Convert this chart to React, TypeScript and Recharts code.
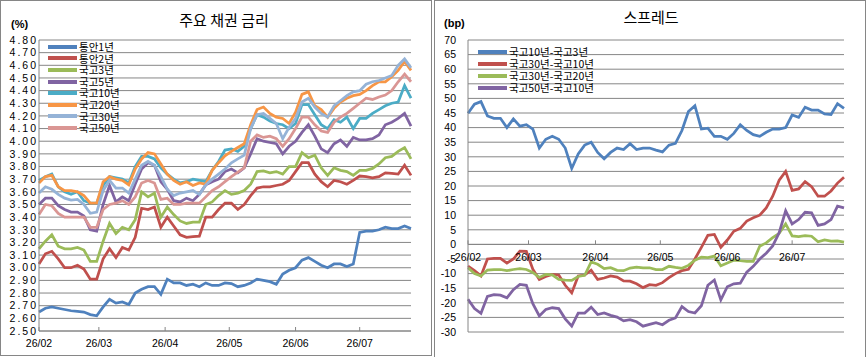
import React from "react";
import {
  LineChart,
  Line,
  XAxis,
  YAxis,
  CartesianGrid,
  Legend,
  ReferenceLine,
  ReferenceDot,
} from "recharts";

// days counted from 2026-02-01, one sample every 3 days
const days = [
  0, 3, 6, 9, 12, 15, 18, 21, 24, 27, 30, 33, 36, 39, 42, 45, 48, 51, 54, 57,
  60, 63, 66, 69, 72, 75, 78, 81, 84, 87, 90, 93, 96, 99, 102, 105, 108, 111,
  114, 117, 120, 123, 126, 129, 132, 135, 138, 141, 144, 147, 150, 153, 156,
  159, 162, 165, 168, 171, 174,
];

const monthTicks = [0, 28, 59, 89, 120, 150];
const monthLabels = ["26/02", "26/03", "26/04", "26/05", "26/06", "26/07"];

const rateTicks = [
  2.5, 2.6, 2.7, 2.8, 2.9, 3.0, 3.1, 3.2, 3.3, 3.4, 3.5, 3.6, 3.7, 3.8, 3.9,
  4.0, 4.1, 4.2, 4.3, 4.4, 4.5, 4.6, 4.7, 4.8,
];
const spreadTicks = [
  -30, -25, -20, -15, -10, -5, 0, 5, 10, 15, 20, 25, 30, 35, 40, 45, 50, 55, 60,
  65, 70,
];

// 주요 채권 금리 (%)
const tongan1 = [
  2.65, 2.68, 2.69, 2.68, 2.67, 2.66, 2.655, 2.65, 2.63, 2.62,
  2.69, 2.75, 2.72, 2.73, 2.71, 2.8, 2.83, 2.85, 2.85, 2.79,
  2.91, 2.88, 2.88, 2.86, 2.87, 2.85, 2.88, 2.86, 2.86, 2.88,
  2.875, 2.85, 2.86, 2.88, 2.91, 2.9, 2.89, 2.87, 2.95, 2.98,
  3.0, 3.06, 3.08, 3.05, 3.02, 3.0, 3.03, 3.03, 3.01, 3.03,
  3.28, 3.29, 3.29, 3.3, 3.32, 3.31, 3.31, 3.33, 3.31,
];
const tongan2 = [
  3.03, 3.11, 3.13, 3.07, 3.0, 3.0, 3.02, 2.99, 2.91, 2.91,
  3.07, 3.15, 3.08, 3.16, 3.14, 3.24, 3.47, 3.46, 3.48, 3.32,
  3.4, 3.33, 3.26, 3.24, 3.245, 3.25, 3.4, 3.4, 3.46, 3.51,
  3.51, 3.46, 3.5, 3.57, 3.63, 3.64, 3.64, 3.65, 3.66, 3.69,
  3.76, 3.83, 3.83, 3.74, 3.68, 3.64, 3.69, 3.68, 3.66, 3.69,
  3.725, 3.72, 3.71, 3.72, 3.75, 3.745, 3.74, 3.81, 3.73,
];
const gukgo3 = [
  3.15, 3.21, 3.26, 3.17, 3.15, 3.15, 3.16, 3.14, 3.05, 3.05,
  3.21, 3.35, 3.27, 3.32, 3.3, 3.38, 3.6, 3.56, 3.59, 3.4,
  3.48, 3.42, 3.37, 3.35, 3.36, 3.36, 3.5, 3.52, 3.57, 3.61,
  3.58, 3.59, 3.61, 3.66, 3.76, 3.765, 3.75, 3.76, 3.74, 3.8,
  3.8, 3.91, 3.87, 3.89, 3.79, 3.73, 3.79, 3.77, 3.76, 3.73,
  3.77, 3.77, 3.785, 3.82, 3.87, 3.88, 3.92, 3.95, 3.86,
];
const gukgo5 = [
  3.5, 3.55, 3.55, 3.49, 3.46, 3.44, 3.44, 3.41, 3.3, 3.29,
  3.5, 3.65, 3.52, 3.56, 3.53, 3.66, 3.78, 3.83, 3.81, 3.68,
  3.62, 3.53, 3.52, 3.55, 3.53, 3.58, 3.655, 3.68, 3.7, 3.76,
  3.78, 3.75, 3.79, 3.9, 4.02, 4.0, 3.99, 3.98, 3.9, 3.96,
  4.0, 4.07, 4.13, 4.04, 3.94, 3.91, 3.98, 4.01, 3.96, 4.03,
  4.01, 4.01, 4.02, 4.05, 4.13, 4.15, 4.18, 4.22, 4.12,
];
const gukgo10 = [
  3.69, 3.72, 3.74, 3.64, 3.6, 3.58, 3.6, 3.53, 3.51, 3.51,
  3.65, 3.72, 3.71, 3.7, 3.67, 3.8, 3.88, 3.88, 3.86, 3.79,
  3.74, 3.7, 3.67, 3.68, 3.7, 3.69, 3.68, 3.77, 3.84, 3.93,
  3.94, 3.92, 3.96, 4.1, 4.21, 4.19, 4.16, 4.14, 4.13, 4.1,
  4.14, 4.29, 4.29, 4.21, 4.13, 4.1, 4.17, 4.15, 4.19, 4.1,
  4.18, 4.18, 4.22, 4.25, 4.28, 4.3, 4.31, 4.44, 4.34,
];
const gukgo20 = [
  3.67, 3.72, 3.73, 3.64, 3.61, 3.61, 3.6, 3.57, 3.51, 3.51,
  3.68, 3.72, 3.7, 3.69, 3.655, 3.78, 3.86, 3.91, 3.9, 3.82,
  3.74, 3.69, 3.66, 3.68, 3.65, 3.67, 3.66, 3.77, 3.83, 3.885,
  3.92, 3.95, 3.98, 4.13, 4.25, 4.27, 4.22, 4.19, 4.18, 4.14,
  4.23, 4.37, 4.39, 4.28, 4.25, 4.19, 4.26, 4.31, 4.34, 4.36,
  4.37, 4.4, 4.44, 4.47, 4.47, 4.51, 4.56, 4.63, 4.56,
];
const gukgo30 = [
  3.59, 3.64, 3.62, 3.58, 3.55, 3.535, 3.54, 3.5, 3.43, 3.44,
  3.61, 3.69, 3.63, 3.63, 3.59, 3.7, 3.81, 3.84, 3.81, 3.72,
  3.62, 3.57, 3.59, 3.6, 3.61, 3.58, 3.655, 3.7, 3.74, 3.78,
  3.83, 3.86, 3.89, 4.1, 4.21, 4.22, 4.18, 4.14, 4.02, 4.11,
  4.18, 4.31, 4.34, 4.27, 4.22, 4.19, 4.28, 4.32, 4.36, 4.39,
  4.4, 4.45, 4.47, 4.48, 4.5, 4.52, 4.6, 4.65, 4.58,
];
const gukgo50 = [
  3.42, 3.5, 3.49, 3.43, 3.4, 3.4, 3.4, 3.4, 3.32, 3.32,
  3.46, 3.5, 3.51, 3.53, 3.5, 3.56, 3.67, 3.69, 3.67, 3.54,
  3.55, 3.5, 3.5, 3.51, 3.51, 3.51, 3.56, 3.61, 3.64, 3.68,
  3.72, 3.755, 3.79, 4.0, 4.05, 4.03, 4.04, 4.02, 3.96, 4.02,
  4.1, 4.19, 4.19, 4.13, 4.08, 4.07, 4.15, 4.19, 4.22, 4.26,
  4.3, 4.34, 4.33, 4.35, 4.365, 4.4, 4.47, 4.53, 4.47,
];

// 스프레드 (bp)
const s10y3y = [
  44.9, 48, 48.9, 44, 43.2, 43.2, 40, 43, 40.5, 41,
  39.5, 33, 36, 37, 36, 33, 26, 31, 34, 35,
  31.5, 29.3, 31.5, 33, 32.5, 34.5, 32.5, 33, 33, 32.3,
  31.7, 34, 34.6, 39, 45.5, 47.5, 39.5, 39.8, 37, 37,
  36, 38, 41, 39, 37.6, 37, 38.4, 39.5, 39.5, 40,
  44.3, 43.5, 47, 46, 46, 44.7, 44.5, 48.2, 46.6,
];
const s30y10y = [
  -7.4, -9, -10.8, -5, -4.8, -4.8, -6.4, -5, -2.3, -2.4,
  -8.5, -12, -11, -10.3, -10.5, -14, -16.6, -10.8, -10.5, -8.8,
  -12, -11.5, -10.8, -11.2, -12.5, -12.6, -13.5, -14.8, -13.8, -14,
  -13.1, -11.4, -10, -9, -8.5, -5, -1, 3.1, 3.4, -1,
  1.5, 4.5, 5.5, 8, 9.1, 10, 12.5, 16.5, 22, 25,
  18.5, 19, 21.5, 19.8, 16.5, 16.5, 18.3, 21, 23,
];
const s30y20y = [
  -8, -10, -10.8, -8.8, -8.6, -8.6, -9, -8.6, -8.3, -8.6,
  -9.6, -11.3, -10.3, -10.4, -12, -12.2, -12.3, -11, -10.6, -6,
  -6.8, -8.3, -8, -8.9, -9, -8.1, -7.8, -8, -8, -8.6,
  -8.6, -7.5, -7.9, -8.2, -7.2, -5.4, -4.4, -4.5, -4, -7.3,
  -6.4, -5.4, -5.6, -5.8, -5.8, -0.6, 0.5, 2.3, 3.8, 7,
  2.9, 2.7, 3, 2.8, 0.9, 1.5, 1.1, 1.2, 0.8,
];
const s50y10y = [
  -18.8, -22, -23.6, -17.8, -17.2, -17.4, -18.3, -15.5, -13.7, -14,
  -20.3, -24.5, -22.3, -21.7, -22, -25.5, -28, -23.5, -23.5, -21.5,
  -24, -23.5, -24.3, -24.9, -26.2, -25.8, -26.5, -28, -27.4, -26.8,
  -27.5, -26, -25.2, -21.3, -23, -23.5, -21, -14, -12.2, -19,
  -14.5, -13.5, -13.3, -9.5, -7.5, -5, -3, -0.5, 4, 11.5,
  7, 8.5, 11, 10.8, 6.5, 7, 8.5, 13.1, 12.5,
];

const rateNames = ["통안1년", "통안2년", "국고3년", "국고5년", "국고10년", "국고20년", "국고30년", "국고50년"];
const rateValues = [tongan1, tongan2, gukgo3, gukgo5, gukgo10, gukgo20, gukgo30, gukgo50];
const rateColors = ["#4F81BD", "#C0504D", "#9BBB59", "#8064A2", "#4BACC6", "#F79646", "#95B3D7", "#DA9694"];

const spreadNames = ["국고10년-국고3년", "국고30년-국고10년", "국고30년-국고20년", "국고50년-국고10년"];
const spreadValues = [s10y3y, s30y10y, s30y20y, s50y10y];
const spreadColors = ["#4F81BD", "#C0504D", "#9BBB59", "#8064A2"];

const rateData = days.map((d, i) => {
  const row: Record<string, number> = { day: d };
  rateNames.forEach((n, k) => (row[n] = rateValues[k][i]));
  return row;
});
const spreadData = days.map((d, i) => {
  const row: Record<string, number> = { day: d };
  spreadNames.forEach((n, k) => (row[n] = spreadValues[k][i]));
  return row;
});

const FONT_KR = '"Noto Sans CJK KR", "Noto Sans", sans-serif';
const FONT_NUM = '"Liberation Sans", Arial, sans-serif';
const GRID = "#868686";

const monthFmt = (v: number) => monthLabels[monthTicks.indexOf(v)] ?? "";

// legend keeps the series order (recharts sorts by name otherwise)
function LegendList({ payload, rowH, order }: any) {
  const items = [...(payload || [])].sort(
    (a: any, b: any) => order.indexOf(a.value) - order.indexOf(b.value)
  );
  return (
    <div style={{ fontFamily: FONT_KR, fontSize: 10.5, color: "#000" }}>
      {items.map((p: any) => (
        <div key={p.value} style={{ display: "flex", alignItems: "center", height: rowH, whiteSpace: "nowrap" }}>
          <div style={{ width: 29, height: 4, background: p.color, marginRight: 2 }} />
          <span style={{ lineHeight: `${rowH}px` }}>{p.value}</span>
        </div>
      ))}
    </div>
  );
}

export default function App() {
  return (
    <div style={{ position: "absolute", left: 0, top: 0, width: 867, height: 357, background: "#fff", overflow: "hidden" }}>
      {/* left panel */}
      <div style={{ position: "absolute", left: 0, top: 0, width: 432, height: 356, border: `1px solid ${GRID}`, boxSizing: "border-box" }} />
      <div style={{ position: "absolute", left: 124, top: 10, width: 200, textAlign: "center", fontFamily: FONT_KR, fontSize: 15, lineHeight: "20px" }}>
        주요 채권 금리
      </div>
      <div style={{ position: "absolute", left: 11, top: 18, fontFamily: FONT_NUM, fontSize: 11, fontWeight: "bold" }}>(%)</div>
      <div style={{ position: "absolute", left: 0, top: 0 }}>
        <LineChart width={432} height={356} data={rateData} margin={{ top: 40, right: 21, bottom: 0, left: 0 }}>
          <CartesianGrid vertical={false} stroke={GRID} />
          <XAxis
            type="number"
            dataKey="day"
            domain={[0, 174]}
            ticks={monthTicks}
            interval={0}
            tickFormatter={monthFmt}
            height={25}
            axisLine={{ stroke: GRID }}
            tickLine={{ stroke: GRID }}
            tickSize={-4}
            tickMargin={13}
            tick={{ fontSize: 10.5, fill: "#000", fontFamily: FONT_NUM }}
          />
          <YAxis
            type="number"
            domain={[2.5, 4.8]}
            ticks={rateTicks}
            interval={0}
            tickFormatter={(v: number) => v.toFixed(2)}
            width={39}
            axisLine={{ stroke: GRID }}
            tickLine={false}
            tickSize={0}
            tickMargin={1}
            tick={{ fontSize: 10.5, fill: "#000", fontFamily: FONT_NUM, letterSpacing: 2 }}
          />
          <Legend
            layout="vertical"
            align="center"
            verticalAlign="middle"
            wrapperStyle={{ left: 48, top: 41, width: 120 }}
            content={(props: any) => <LegendList payload={props.payload} rowH={11.6} order={rateNames} />}
          />
          {rateNames.map((n, k) => (
            <Line
              key={n}
              type="linear"
              dataKey={n}
              stroke={rateColors[k]}
              strokeWidth={2.75}
              dot={false}
              isAnimationActive={false}
            />
          ))}
        </LineChart>
      </div>

      {/* right panel */}
      <div style={{ position: "absolute", left: 434, top: 0, width: 432, height: 360, border: `1px solid ${GRID}`, boxSizing: "border-box" }} />
      <div style={{ position: "absolute", left: 551, top: 7, width: 200, textAlign: "center", fontFamily: FONT_KR, fontSize: 15, lineHeight: "20px" }}>
        스프레드
      </div>
      <div style={{ position: "absolute", left: 444, top: 17, fontFamily: FONT_NUM, fontSize: 11, fontWeight: "bold" }}>(bp)</div>
      <div style={{ position: "absolute", left: 435, top: 0 }}>
        <LineChart width={432} height={357} data={spreadData} margin={{ top: 40, right: 23, bottom: 25, left: 0 }}>
          <CartesianGrid vertical={false} stroke={GRID} />
          <XAxis type="number" dataKey="day" domain={[0, 174]} hide />
          <YAxis
            type="number"
            domain={[-30, 70]}
            ticks={spreadTicks}
            interval={0}
            width={33}
            axisLine={{ stroke: GRID }}
            tickLine={false}
            tickSize={0}
            tickMargin={12}
            tick={{ fontSize: 10.5, fill: "#000", fontFamily: FONT_NUM }}
          />
          <ReferenceLine y={0} stroke={GRID} />
          {monthTicks.map((d) => (
            <ReferenceLine key={`t${d}`} segment={[{ x: d, y: 0 }, { x: d, y: 1.4 }]} stroke={GRID} />
          ))}
          {monthTicks.map((d, i) => (
            <ReferenceDot
              key={`l${d}`}
              x={d}
              y={0}
              r={0}
              fill="none"
              stroke="none"
              label={{ value: monthLabels[i], position: "bottom", offset: 9, fontSize: 10.5, fill: "#000", fontFamily: FONT_NUM }}
            />
          ))}
          <Legend
            layout="vertical"
            align="center"
            verticalAlign="middle"
            wrapperStyle={{ left: 43, top: 46, width: 150 }}
            content={(props: any) => <LegendList payload={props.payload} rowH={12} order={spreadNames} />}
          />
          {spreadNames.map((n, k) => (
            <Line
              key={n}
              type="linear"
              dataKey={n}
              stroke={spreadColors[k]}
              strokeWidth={2.75}
              dot={false}
              isAnimationActive={false}
            />
          ))}
        </LineChart>
      </div>
    </div>
  );
}
